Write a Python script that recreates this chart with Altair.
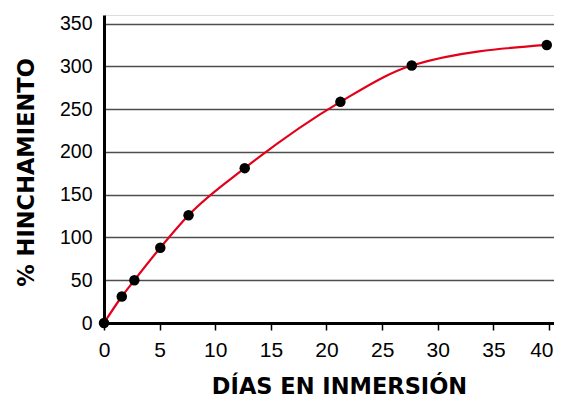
import altair as alt
import pandas as pd

dias = [0, 1.6, 2.73, 5.06, 7.6, 12.65, 21.25, 27.66, 39.8]
hinchamiento = [0, 31, 50, 88, 126, 181, 258.5, 301, 325]
x_ticks = [0, 5, 10, 15, 20, 25, 30, 35, 40]
y_ticks = [0, 50, 100, 150, 200, 250, 300, 350]

df = pd.DataFrame({"dias": dias, "hinch": hinchamiento})

label_font = "Liberation Sans"
title_font = "DejaVu Sans"

x_enc = alt.X(
    "dias:Q",
    scale=alt.Scale(domain=[0, 40.45], nice=False, zero=True),
    axis=alt.Axis(
        values=x_ticks,
        title="DÍAS EN INMERSIÓN",
        grid=False,
        domainColor="black",
        domainWidth=3,
        ticks=True,
        tickColor="black",
        tickWidth=1.5,
        tickSize=7,
        labelFont=label_font,
        labelFontSize=21,
        labelColor="black",
        labelBaseline="alphabetic",
        labelPadding=26,
        labelFlush=False,
        labelAlign={"condition": {"test": "datum.value == 40", "value": "right"}, "value": "center"},
        labelOffset={"condition": {"test": "datum.value == 40", "value": 4}, "value": 0},
        titleFont=title_font,
        titleFontSize=22.5,
        titleFontWeight="bold",
        titleColor="black",
        titleBaseline="alphabetic",
        titleAlign="center",
        titleX=235,
        titleY=70,
    ),
)
y_enc = alt.Y(
    "hinch:Q",
    scale=alt.Scale(domain=[0, 360], nice=False, zero=True),
    axis=alt.Axis(
        values=y_ticks,
        title="% HINCHAMIENTO",
        grid=True,
        gridColor="#4d4d4d",
        gridWidth=1.4,
        domainColor="black",
        domainWidth=3,
        ticks=False,
        labelFont=label_font,
        labelFontSize=19.5,
        labelColor="black",
        labelBaseline="middle",
        labelPadding=12,
        labelFlush=False,
        titleFont=title_font,
        titleFontSize=22.5,
        titleFontWeight="bold",
        titleColor="black",
        titleBaseline="alphabetic",
        titleAlign="center",
        titleAngle=-90,
        titleX=-71,
        titleY=157,
    ),
)

line = alt.Chart(df).mark_line(color="#e2001a", strokeWidth=2.2, interpolate="monotone").encode(
    x=x_enc, y=y_enc
)
points = alt.Chart(df).mark_circle(color="black", opacity=1, size=110).encode(
    x="dias:Q", y="hinch:Q"
)

chart = (
    alt.layer(line, points)
    .properties(
        width=450,
        height=308,
        autosize=alt.AutoSizeParams(type="none"),
        padding={"left": 96, "top": 7, "right": 0, "bottom": 75},
    )
    .configure_view(stroke=None)
    .configure(background="white")
)

chart.save("out.html", embed_options={"renderer": "svg", "actions": False})
